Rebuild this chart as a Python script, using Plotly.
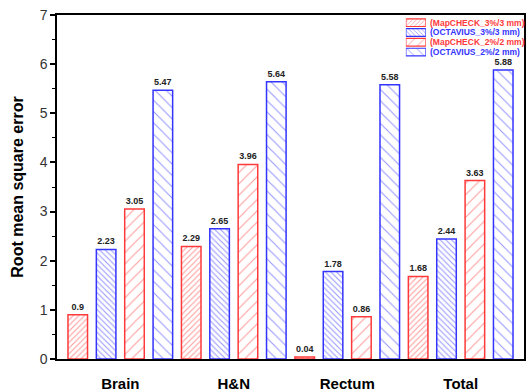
import plotly.graph_objects as go

# Data
categories = ["Brain", "H&N", "Rectum", "Total"]
series_names = ["(MapCHECK_3%/3 mm)", "(OCTAVIUS_3%/3 mm)",
                "(MapCHECK_2%/2 mm)", "(OCTAVIUS_2%/2 mm)"]
mapcheck_3 = [0.9, 2.29, 0.04, 1.68]
octavius_3 = [2.23, 2.65, 1.78, 2.44]
mapcheck_2 = [3.05, 3.96, 0.86, 3.63]
octavius_2 = [5.47, 5.64, 5.58, 5.88]

RED = "#FF3A3A"
BLUE = "#3434FF"
FONT = "Arial, Liberation Sans, sans-serif"

styles = [
    dict(values=mapcheck_3, color=RED, shape="/", size=4, solidity=0.28),
    dict(values=octavius_3, color=BLUE, shape="\\", size=4, solidity=0.28),
    dict(values=mapcheck_2, color=RED, shape="/", size=8, solidity=0.14),
    dict(values=octavius_2, color=BLUE, shape="\\", size=8, solidity=0.14),
]

fig = go.Figure()

for i, (name, st) in enumerate(zip(series_names, styles)):
    fig.add_trace(go.Bar(
        x=categories, y=st["values"], name=name, offsetgroup=str(i),
        marker=dict(color="white",
                    line=dict(color=st["color"], width=1.5),
                    pattern=dict(shape=st["shape"], fgcolor=st["color"],
                                 bgcolor="white", size=st["size"],
                                 solidity=st["solidity"])),
        text=[f"{v:g}" for v in st["values"]],
        textposition="outside", constraintext="none", cliponaxis=False,
        textfont=dict(family=FONT, size=9, color="#222222", weight="bold"),
        showlegend=False,
    ))

# Legend: swatches drawn as small bars on an overlay axis pair,
# labels as paper-anchored annotations beside them
LEG_Y0, LEG_Y1 = 0.878, 0.992
for i, (name, st) in enumerate(zip(series_names, styles)):
    row = 3 - i
    fig.add_trace(go.Bar(
        x=[1], y=[row], orientation="h", width=0.78, base=0,
        xaxis="x2", yaxis="y2", offsetgroup="legend",
        marker=dict(color="white",
                    line=dict(color=st["color"], width=1.2),
                    pattern=dict(shape=st["shape"], fgcolor=st["color"],
                                 bgcolor="white", size=st["size"] - 1,
                                 solidity=st["solidity"])),
        hoverinfo="skip", showlegend=False,
    ))
    fig.add_annotation(
        x=0.794, xref="paper", xanchor="left",
        y=LEG_Y0 + (row + 0.5) / 4 * (LEG_Y1 - LEG_Y0), yref="paper",
        yanchor="middle", text=name, showarrow=False,
        font=dict(family=FONT, size=8.5, color=st["color"], weight="bold"),
    )

fig.update_layout(
    width=527, height=392,
    margin=dict(l=57, r=3, t=15, b=33, autoexpand=False),
    paper_bgcolor="white", plot_bgcolor="white",
    barmode="group", bargap=0, bargroupgap=0.31,
    font=dict(family=FONT),
    xaxis=dict(
        range=[-0.558, 3.558], showline=True, linecolor="black",
        linewidth=1.5, mirror=True, ticks="", showgrid=False,
        tickfont=dict(family=FONT, size=15, color="black", weight="bold"),
        ticklabelstandoff=10, automargin=False,
    ),
    yaxis=dict(
        range=[0, 7], dtick=1, showline=True, linecolor="black",
        linewidth=1.5, mirror=True, ticks="outside", ticklen=5,
        tickwidth=1.5, tickcolor="black", showgrid=False, zeroline=False,
        minor=dict(dtick=0.5, ticks="outside", ticklen=3, tickwidth=1.2,
                   tickcolor="black"),
        tickfont=dict(family=FONT, size=14, color="#333333"),
        title=dict(text="Root mean square error", standoff=12,
                   font=dict(family=FONT, size=16, color="black",
                             weight="bold")),
        automargin=False,
    ),
    xaxis2=dict(domain=[0.747, 0.790], range=[0, 1], anchor="y2",
                visible=False, fixedrange=True, automargin=False),
    yaxis2=dict(domain=[LEG_Y0, LEG_Y1], range=[-0.5, 3.5], anchor="x2",
                visible=False, fixedrange=True, automargin=False),
)

fig.write_html("out.html")
